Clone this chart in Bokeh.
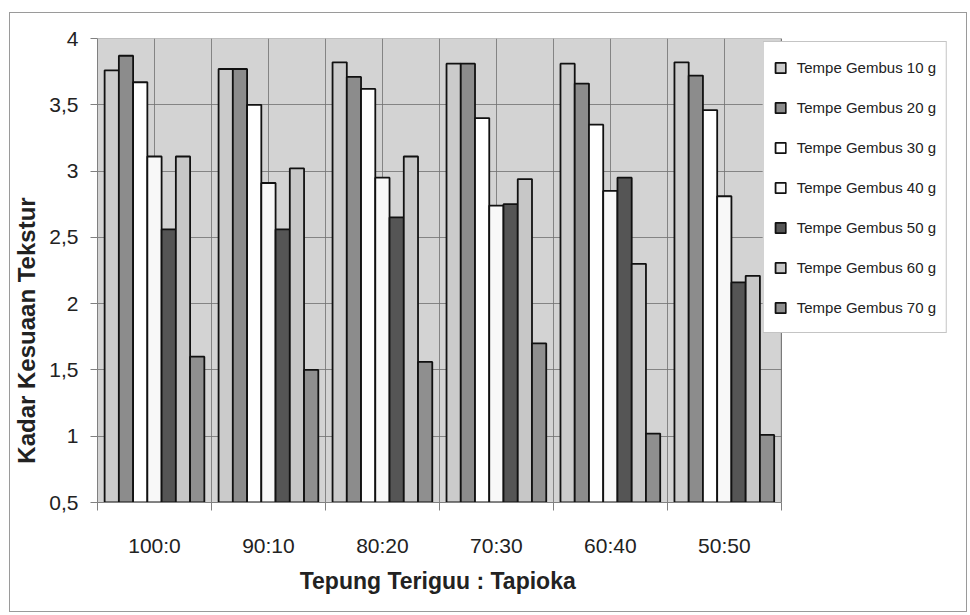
from bokeh.plotting import figure
from bokeh.models import Range1d, FixedTicker, Legend, LegendItem, ColumnDataSource, BoxAnnotation
from bokeh.transform import dodge
from bokeh.embed import file_html
from bokeh.resources import INLINE

categories = ["100:0", "90:10", "80:20", "70:30", "60:40", "50:50"]
series_names = ["Tempe Gembus 10 g", "Tempe Gembus 20 g", "Tempe Gembus 30 g",
                "Tempe Gembus 40 g", "Tempe Gembus 50 g", "Tempe Gembus 60 g",
                "Tempe Gembus 70 g"]
g10 = [3.76, 3.77, 3.82, 3.81, 3.81, 3.82]
g20 = [3.87, 3.77, 3.71, 3.81, 3.66, 3.72]
g30 = [3.67, 3.50, 3.62, 3.40, 3.35, 3.46]
g40 = [3.11, 2.91, 2.95, 2.74, 2.85, 2.81]
g50 = [2.56, 2.56, 2.65, 2.75, 2.95, 2.16]
g60 = [3.11, 3.02, 3.11, 2.94, 2.30, 2.21]
g70 = [1.60, 1.50, 1.56, 1.70, 1.02, 1.01]
series_values = [g10, g20, g30, g40, g50, g60, g70]
y_ticks = [0.5, 1.0, 1.5, 2.0, 2.5, 3.0, 3.5, 4.0]
y_tick_labels = ["0,5", "1", "1,5", "2", "2,5", "3", "3,5", "4"]
x_title = "Tepung Teriguu : Tapioka"
y_title = "Kadar Kesuaan Tekstur"

colors = ["#cbcbcb", "#8c8c8c", "#ffffff", "#f8f8f8", "#555555", "#c7c7c7", "#8f8f8f"]

FONT = "Liberation Sans"
NBSP = "\u00a0"
n_cat = len(categories)
y_lo, y_hi = y_ticks[0], y_ticks[-1]

centers = [i + 0.5 for i in range(n_cat)]
bounds = [float(i) for i in range(n_cat + 1)]

# the frame is wider than the category area so the legend can overlap its right edge
FRAME_W, CAT_W = 857, 687
x_end = n_cat * FRAME_W / CAT_W

p = figure(width=958, height=600, output_backend="svg", toolbar_location=None,
           x_range=Range1d(0, x_end), y_range=Range1d(y_lo, y_hi),
           min_border_left=83, min_border_right=18, min_border_top=25,
           min_border_bottom=111)
p.styles = {"border": "1px solid #9a9a9a", "margin-left": "9px", "margin-top": "12px"}

p.background_fill_color = "white"
p.border_fill_color = "white"
p.outline_line_color = None

plot_area = BoxAnnotation(left=0, right=n_cat, bottom=y_lo, top=y_hi, level="image",
                          fill_color="#d3d3d3", fill_alpha=1.0,
                          line_color="#8a8a8a", line_width=1, line_alpha=1.0)
p.add_layout(plot_area)

src = ColumnDataSource(dict(x=centers, **{f"s{j}": v for j, v in enumerate(series_values)}))

bar_w = 0.125
renderers = []
for j, name in enumerate(series_names):
    off = (j - 3) * bar_w
    r = p.vbar(x=dodge("x", off, range=p.x_range), top=f"s{j}", bottom=y_lo, width=bar_w,
               source=src, fill_color=colors[j], line_color="#111111", line_width=1.8)
    renderers.append(r)

# x axis: labels at category centres, tick marks at category boundaries
p.xaxis.ticker = FixedTicker(ticks=centers, minor_ticks=bounds)
p.xaxis.bounds = (0, n_cat)
p.xaxis.major_label_overrides = {c: lab for c, lab in zip(centers, categories)}
p.xaxis.major_tick_in = 0
p.xaxis.major_tick_out = 0
p.xaxis.minor_tick_in = 0
p.xaxis.minor_tick_out = 8
p.xaxis.minor_tick_line_color = "#808080"
p.xaxis.axis_line_color = "#808080"
p.xaxis.major_label_text_font = FONT
p.xaxis.major_label_text_font_size = "21px"
p.xaxis.major_label_text_color = "#222222"
p.xaxis.major_label_standoff = 23
p.xaxis.axis_label = x_title + NBSP * 27
p.xaxis.axis_label_text_font = FONT
p.xaxis.axis_label_text_font_style = "bold"
p.xaxis.axis_label_text_font_size = "23px"
p.xaxis.axis_label_text_color = "#222222"
p.xaxis.axis_label_standoff = 8

p.yaxis.ticker = FixedTicker(ticks=y_ticks, minor_ticks=[])
p.yaxis.major_label_overrides = {t: lab for t, lab in zip(y_ticks, y_tick_labels)}
p.yaxis.major_tick_in = 0
p.yaxis.major_tick_out = 7
p.yaxis.major_tick_line_color = "#808080"
p.yaxis.axis_line_color = "#808080"
p.yaxis.major_label_text_font = FONT
p.yaxis.major_label_text_font_size = "21px"
p.yaxis.major_label_text_color = "#222222"
p.yaxis.major_label_standoff = 12
p.yaxis.axis_label = y_title + NBSP * 18
p.yaxis.axis_label_text_font = FONT
p.yaxis.axis_label_text_font_style = "bold"
p.yaxis.axis_label_text_font_size = "24px"
p.yaxis.axis_label_text_color = "#222222"
p.yaxis.axis_label_standoff = 6

p.xgrid.grid_line_color = "#707070"
p.xgrid.grid_line_alpha = 0.8
p.xgrid.minor_grid_line_color = "#707070"
p.xgrid.minor_grid_line_alpha = 0.8
p.ygrid.grid_line_color = "#707070"
p.ygrid.grid_line_alpha = 0.8
p.ygrid.cross_bounds = (0, n_cat)

legend = Legend(items=[LegendItem(label=n, renderers=[r]) for n, r in zip(series_names, renderers)],
                location="top_right", orientation="vertical")
legend.label_text_font = FONT
legend.label_text_font_size = "15px"
legend.label_text_color = "#222222"
legend.glyph_width = 13
legend.glyph_height = 13
legend.label_height = 30
legend.label_standoff = 10
legend.spacing = 10
legend.padding = 10
legend.margin = 3
legend.border_line_color = "#8a8a8a"
legend.border_line_width = 1
legend.background_fill_color = "white"
legend.background_fill_alpha = 1.0
p.add_layout(legend, "center")

open("out.html", "w").write(file_html(p, INLINE))
